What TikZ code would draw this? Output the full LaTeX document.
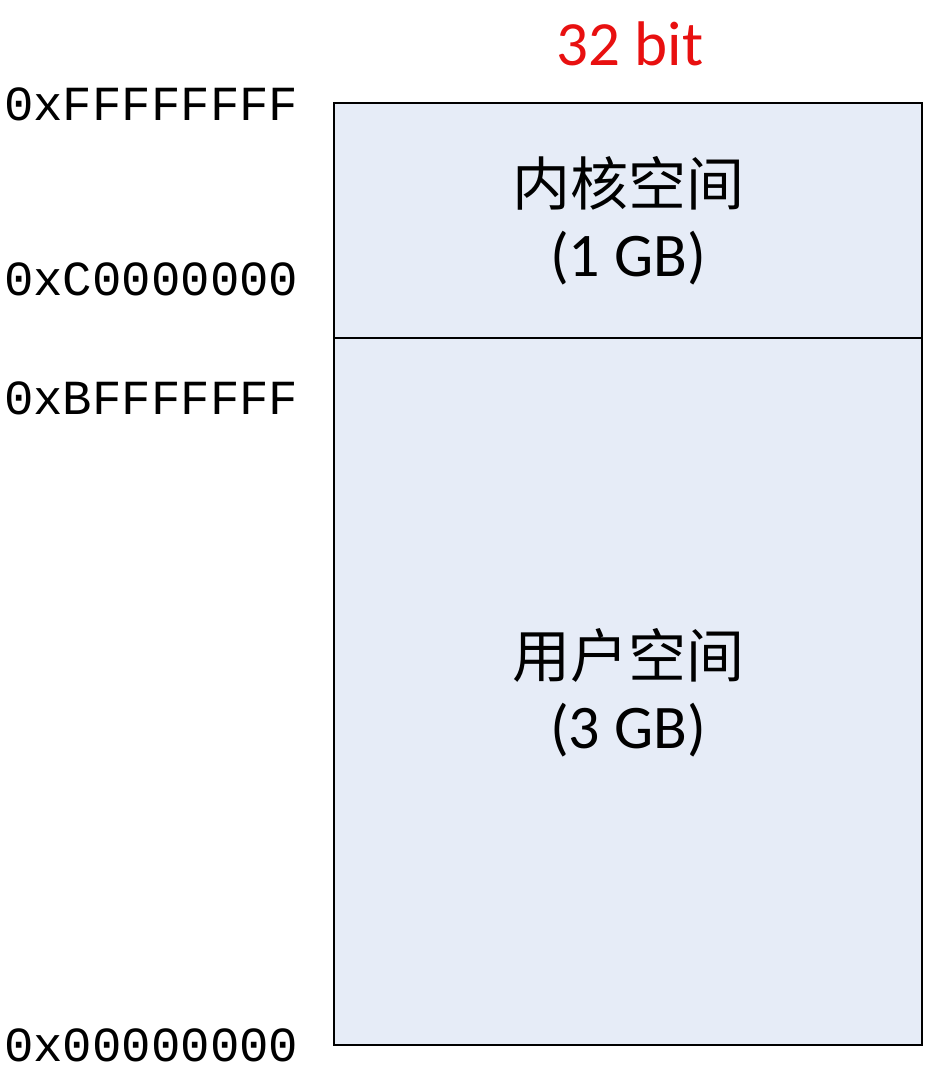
\documentclass[tikz,border=0pt]{standalone}
\usepackage{fontspec}
\setmainfont{Carlito}
\setmonofont{Liberation Mono}
\newfontfamily\cjk{Noto Sans CJK SC}
\definecolor{regionfill}{HTML}{E6ECF7}
\definecolor{titlered}{HTML}{E81010}
\begin{document}
\begin{tikzpicture}[x=1pt,y=-1pt,
  addr/.style={anchor=west,inner sep=0pt,font=\ttfamily\fontsize{49}{49}\selectfont},
  region/.style={draw=black,line width=1.6pt,fill=regionfill},
  regionlabel/.style={align=center,inner sep=0pt,font=\fontsize{62}{71}\selectfont}]
\useasboundingbox (0,0) rectangle (925,1075);
\draw[region] (334,103) rectangle (922,338);
\draw[region] (334,338) rectangle (922,1045);
\node[regionlabel] (kernel) at (628,221) {{\cjk\fontsize{58}{71}\selectfont 内核空间}\\(1 GB)};
\node[regionlabel] (user) at (628,693) {{\cjk\fontsize{58}{71}\selectfont 用户空间}\\(3 GB)};
\node[inner sep=0pt,text=titlered,font=\fontsize{63}{63}\selectfont] (title) at (630,44) {32 bit};
\node[addr] (a1) at (4,104) {0xFFFFFFFF};
\node[addr] (a2) at (4,279) {0xC0000000};
\node[addr] (a3) at (4,398) {0xBFFFFFFF};
\node[addr] (a4) at (4,1045) {0x00000000};
\end{tikzpicture}
\end{document}
